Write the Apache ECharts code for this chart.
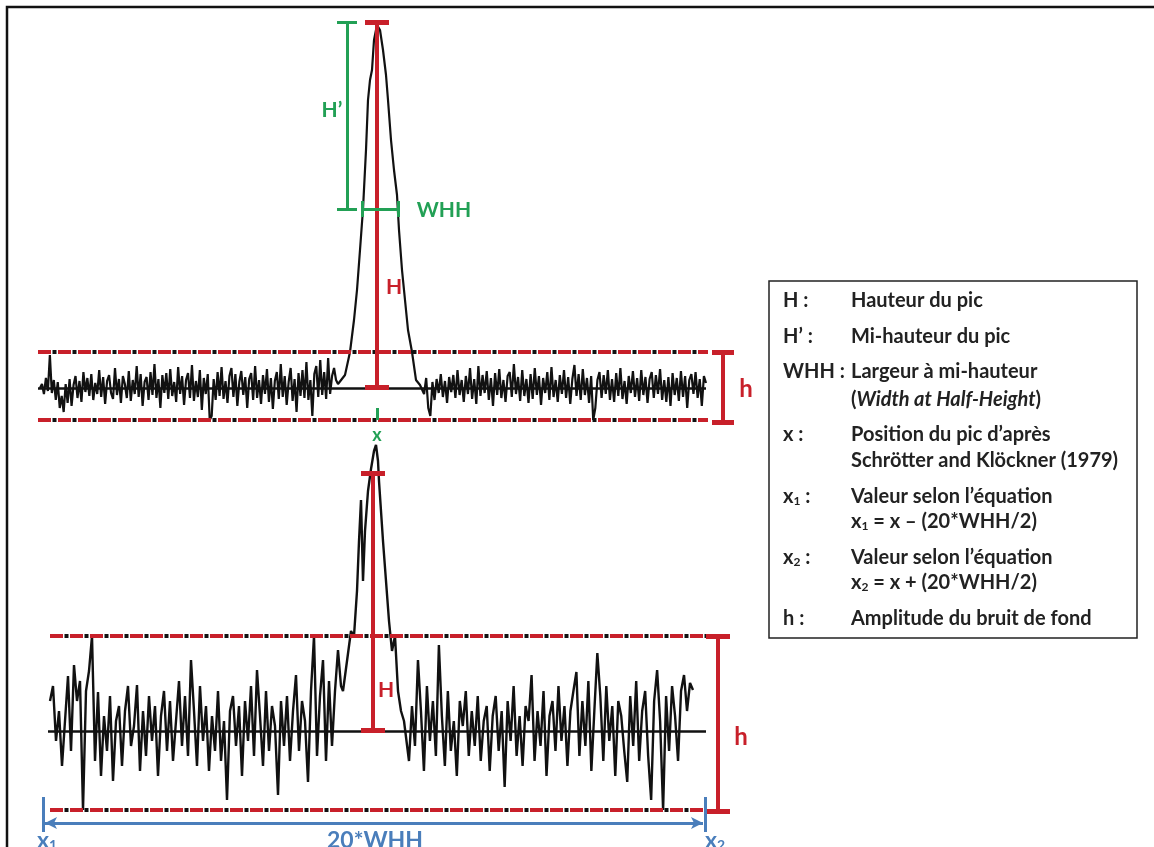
<!DOCTYPE html>
<html><head><meta charset="utf-8">
<script src="https://cdn.jsdelivr.net/npm/echarts@6/dist/echarts.min.js"></script>
<style>html,body{margin:0;padding:0;background:#fff}#c{width:1154px;height:847px}</style>
</head><body><div id="c"></div><script>
// ---------- DATA (signal amplitude) ----------
// Top spectrum: noise left of the peak, the peak, noise right of the peak
const topNoiseLeft = [0, 4, -6, 10, -3, 33, -5, 8, -12, 6, -20, -8, -24, 4, -15, 9, -18, 3, 12, -10, 7, -14, 16, -4, 10, -8, 14, -12, 5, -6, 18, -9, 11, -16, 7, 13, -5, -11, 20, -7, 9, -15, 12, 4, -10, 17, -13, 8, -6, 22, -9, 14, -18, 6, 11, -12, 16, -7, 24, -10, 9, -20, 13, -5, 15, -11, 19, -8, 6, -14, 21, -6, 12, -17, 8, 15, -10, 23, -13, 7, -9, 18, -22, 10, -6, 14, -32, -28, 9, -12, 16, -8, 21, -11, 7, -15, 12, 20, -9, 14, -18, 6, 17, -7, 11, -20, 9, 15, -12, 22, -10, 8, -16, 13, -6, 19, -14, 10, -21, 7, 16, -11, 24, -9, 12, -17, 6, 20, -13, 9, -24, 15, -8, 18, -10, 26, -12, 8, -28, 14, 22, -9, 28, -7, 16, -11, 30, -6, 12, 20, 8, 4];
const topPeakX = [302, 307, 312, 316, 319, 322, 325, 328, 330, 332, 334, 336, 339, 342, 345, 348, 350, 353, 356, 359, 361, 364, 367, 370, 374, 378, 382];
const topPeakY = [3, 13, 36, 68, 98, 138, 179, 238, 288, 308, 318, 348, 363, 358, 338, 313, 288, 248, 218, 193, 158, 118, 88, 58, 36, 8, 3];
const topNoiseRight = [3, -6, 10, -20, -28, 6, -12, 9, -5, 14, -9, 7, -15, 11, -4, 13, -10, 18, -7, 8, -14, 12, -6, 20, -11, 9, -16, 22, -8, 13, -5, 17, -12, 10, -18, 15, -7, 19, -10, 8, -14, 12, 16, -9, 24, -6, 11, -13, 18, -8, 9, -15, 14, -11, 20, -7, 12, -17, 10, -5, 16, -12, 21, -9, 8, -14, 13, -6, 18, -10, 11, -16, 9, 23, -8, 14, -12, 19, -7, 10, -15, 12, -32, -20, 8, 16, -10, 13, -6, 18, -12, 9, -14, 15, -8, 20, -11, 7, -16, 12, -5, 17, -9, 10, -13, 18, -7, 11, -15, 9, 16, -10, 13, -6, 19, -12, 8, -14, 11, -18, 15, -7, 10, -13, 17, -9, 12, -20, 8, 14, -6, 16, -10, 9, -18, 12, 5];
const topNoiseLeftSpan = [2, 300];
const topNoiseRightSpan = [384, 668];
const topBaselineSpan = [0, 668];
const topNoiseBand = [36, -32];      // h band (upper / lower)
const topH = 366;                    // peak height H
const topHalf = 179;                 // half height
const topPeakPos = 339;              // x
const topWHH = [324, 360];

// Bottom spectrum
const botNoiseLeft = [30, 45, -10, 20, -35, 10, 55, -20, 66, 30, 50, -79, 40, 60, 95, -30, 39, -45, 15, -20, 35, -50, 10, 25, -35, 20, 45, -15, 5, 46, -40, 20, -25, 35, -10, 25, -45, 15, 40, -20, 30, -30, 10, 50, -15, 35, -25, 71, 20, -35, 45, -10, 25, -40, 15, -20, 40, -30, 10, -69, 20, 35, -15, 25, -45, 30, -10, 45, -25, 61, 15, -35, 40, -20, 25, 5, -64, 30, -15, 35, -30, 20, 56, -20, 30, 10, -51, 40, 95, -25, 35, 71, -30, 50, -15, 40, 81, 45];
const botPeakX = [305, 309, 313, 316, 319, 321, 323, 325, 327, 330, 333, 336, 338, 340, 341, 343, 345, 348, 351, 354, 357, 360, 363, 366];
const botPeakY = [40, 70, 100, 95, 140, 190, 231, 150, 200, 240, 262, 280, 286, 270, 250, 220, 190, 150, 110, 80, 95, 40, 20, 10];
const botNoiseRight = [10, -30, 25, -15, 71, 20, -40, 45, -10, 30, -25, 86, 15, -35, 40, -20, 10, -45, 30, 5, 40, -25, 20, -15, 35, -30, 10, 25, -40, 15, 35, -20, 20, -56, 30, -10, 45, -25, 15, -35, 25, 10, 56, -30, 20, -15, 40, -45, 15, 30, -20, 45, -10, 25, -35, 20, 40, 59, -25, 30, -15, 50, -40, 20, 78, 35, -30, 45, -10, 25, -45, 30, 15, -20, -51, 35, -15, 50, -30, 20, 40, -25, -69, 30, 61, 10, -79, 35, -20, 45, 15, -30, 40, 56, 20, 48, 41];
const botNoiseLeftSpan = [12, 303];
const botNoiseRightSpan = [368, 655];
const botBaselineSpan = [10, 668];
const botNoiseBand = [95, -79];
const botH = 258;
const botPeakPos = 335;
const botWindow = [5, 667];          // x1 .. x2

// Texts
const windowLabels = ['x{s|1}', '20*WHH', 'x{s|2}'];
const legendKeys = ['H :', 'H’ :', 'WHH :', '', 'x :', '', 'x{s|1} :', '', 'x{s|2} :', '', 'h :'];
const legendTexts = ['Hauteur du pic', 'Mi-hauteur du pic', 'Largeur à mi-hauteur', '({i|Width at Half-Height})',
  'Position du pic d’après', 'Schrötter and Klöckner (1979)', 'Valeur selon l’équation', 'x{s|1} = x – (20*WHH/2)',
  'Valeur selon l’équation', 'x{s|2} = x + (20*WHH/2)', 'Amplitude du bruit de fond'];

// ---------- BUILD ----------
const RED = '#c8202a', GREEN = '#22a055', BLUE = '#4a7ebb', BLACK = '#111';
const FONT = 'Lato, "Open Sans", "DejaVu Sans", sans-serif';

function spread(vals, span) {
  const n = vals.length;
  return vals.map((v, i) => [span[0] + i * (span[1] - span[0]) / (n - 1), v]);
}
function zip(xs, ys) { return xs.map((x, i) => [x, ys[i]]); }

const topSignal = spread(topNoiseLeft, topNoiseLeftSpan).concat(zip(topPeakX, topPeakY), spread(topNoiseRight, topNoiseRightSpan));
const botSignal = spread(botNoiseLeft, botNoiseLeftSpan).concat(zip(botPeakX, botPeakY), spread(botNoiseRight, botNoiseRightSpan));

function seg(x1, y1, x2, y2, color, width, extra) {
  return [{ coord: [x1, y1], lineStyle: Object.assign({ color: color, width: width, type: 'solid' }, extra || {}) }, { coord: [x2, y2] }];
}
function dashedPair(span, y) {
  return [
    seg(span[0], y, span[1], y, BLACK, 4, { type: [4, 16], dashOffset: 5.5 }),
    seg(span[0], y, span[1], y, RED, 4, { type: [13, 7] })
  ];
}
function vbar(x, y1, y2, capHalf, color, width, capWidth) {
  return [
    seg(x, y1, x, y2, color, width),
    seg(x - capHalf, y1, x + capHalf, y1, color, capWidth),
    seg(x - capHalf, y2, x + capHalf, y2, color, capWidth)
  ];
}
function lbl(x, y, text, color, size) {
  return {
    coord: [x, y], value: 0, name: text,
    label: { show: true, position: 'inside', formatter: text, color: color, fontSize: size, fontWeight: 'bold', fontFamily: FONT }
  };
}
function baseSeries(xi, data) {
  return { type: 'line', xAxisIndex: xi, yAxisIndex: xi, data: [], z: 1, silent: true,
    markLine: { silent: true, symbol: 'none', animation: false, label: { show: false }, data: data } };
}
function annotSeries(xi, lines, points) {
  return { type: 'line', xAxisIndex: xi, yAxisIndex: xi, data: [], z: 5, silent: true,
    markLine: { silent: true, symbol: 'none', animation: false, label: { show: false }, data: lines },
    markPoint: { silent: true, symbol: 'circle', symbolSize: 1, animation: false, itemStyle: { color: 'rgba(0,0,0,0)' }, data: points } };
}

// top annotations
const topBaseLines = [seg(topBaselineSpan[0], 0, topBaselineSpan[1], 0, BLACK, 2.5)]
  .concat(dashedPair([0, 670], topNoiseBand[0]), dashedPair([0, 670], topNoiseBand[1]));
const topAnnLines = []
  .concat(vbar(topPeakPos, 1, topH, 12, RED, 4, 5))
  .concat(vbar(309, topHalf, topH, 10, GREEN, 3, 3))
  .concat([seg(topWHH[0], topHalf, topWHH[1], topHalf, GREEN, 3),
           seg(topWHH[0], topHalf - 8, topWHH[0], topHalf + 8, GREEN, 3),
           seg(topWHH[1], topHalf - 8, topWHH[1], topHalf + 8, GREEN, 3)])
  .concat(vbar(685, topNoiseBand[0], topNoiseBand[1] - 2, 11, RED, 4, 5))
  .concat([seg(topPeakPos, -20, topPeakPos, -32, GREEN, 3)]);
const topAnnPoints = [
  lbl(406, topHalf - 1, 'WHH', GREEN, 21),
  lbl(294, 278, 'H’', GREEN, 21),
  lbl(356, 101, 'H', RED, 21),
  lbl(topPeakPos, -47, 'x', GREEN, 18),
  lbl(708, -1, 'h', RED, 24)
];

// bottom annotations
const botBaseLines = [seg(botBaselineSpan[0], 0, botBaselineSpan[1], 0, BLACK, 2.5)]
  .concat(dashedPair([12, 668], botNoiseBand[0]), dashedPair([12, 668], botNoiseBand[1]));
const botAnnLines = []
  .concat(vbar(botPeakPos, 1, botH, 12, RED, 4, 5))
  .concat(vbar(680, botNoiseBand[0], botNoiseBand[1] - 1, 12, RED, 4, 5))
  .concat([seg(botWindow[0], -66, botWindow[0], -101, BLUE, 3),
           seg(botWindow[1], -66, botWindow[1], -101, BLUE, 3),
           [{ coord: [botWindow[0] + 2, -92], symbol: 'arrow', symbolSize: [9, 12], lineStyle: { color: BLUE, width: 3, type: 'solid' } },
            { coord: [botWindow[1] - 2, -92], symbol: 'arrow', symbolSize: [9, 12] }]]);
const botAnnPoints = [
  lbl(348, 41, 'H', RED, 21),
  lbl(703, -6, 'h', RED, 24)
];

// legend box (text panel)
const rowY = [301, 337, 372, 400, 435, 461, 497, 522, 558, 583, 619];
const LF = 20;
const richL = {
  s: { fontSize: 12, fontWeight: 'bold', fontFamily: FONT, fill: '#222', verticalAlign: 'bottom' },
  i: { fontSize: LF, fontWeight: 'bold', fontStyle: 'italic', fontFamily: FONT, fill: '#222' }
};
const legendGraphics = [{ type: 'rect', shape: { x: 769, y: 281, width: 368, height: 357 }, style: { fill: '#fff', stroke: '#222', lineWidth: 1.5 }, z: 10 }];
legendKeys.forEach((k, i) => {
  if (k) legendGraphics.push({ type: 'text', x: 783, y: rowY[i], z: 11,
    style: { text: k, font: 'bold ' + LF + 'px ' + FONT, fill: '#222', verticalAlign: 'middle', rich: richL } });
});
legendTexts.forEach((t, i) => {
  legendGraphics.push({ type: 'text', x: 851, y: rowY[i], z: 11,
    style: { text: t, font: 'bold ' + LF + 'px ' + FONT, fill: '#222', verticalAlign: 'middle', rich: richL } });
});

const chart = echarts.init(document.getElementById('c'), null, { renderer: 'canvas' });
const option = {
  animation: false,
  backgroundColor: '#fff',
  grid: [
    { left: 38, top: 18, width: 740, height: 420 },
    { left: 38, top: 431, width: 740, height: 410 }
  ],
  xAxis: [
    { type: 'value', gridIndex: 0, min: 0, max: 740, show: false },
    { type: 'value', gridIndex: 1, min: 0, max: 740, show: false }
  ],
  yAxis: [
    { type: 'value', gridIndex: 0, min: -50, max: 370, show: false },
    { type: 'value', gridIndex: 1, min: -110, max: 300, show: false }
  ],
  graphic: [{ type: 'rect', shape: { x: 7, y: 7, width: 1160, height: 860 }, style: { fill: 'none', stroke: '#111', lineWidth: 2.5 }, z: 20 }].concat(legendGraphics),
  series: [
    baseSeries(0, topBaseLines),
    { type: 'line', xAxisIndex: 0, yAxisIndex: 0, data: topSignal, showSymbol: false, symbol: 'none', z: 2, silent: true, clip: false,
      lineStyle: { color: BLACK, width: 2.2 } },
    annotSeries(0, topAnnLines, topAnnPoints),
    baseSeries(1, botBaseLines),
    { type: 'line', xAxisIndex: 1, yAxisIndex: 1, data: botSignal, showSymbol: false, symbol: 'none', z: 2, silent: true, clip: false,
      lineStyle: { color: BLACK, width: 2.4 } },
    annotSeries(1, botAnnLines, botAnnPoints)
  ]
};
chart.setOption(option);

// window labels (x1, 20*WHH, x2) placed through the bottom grid's scales
const labelX = [botWindow[0] + 4, (botWindow[0] + botWindow[1]) / 2 + 1, botWindow[1] + 10];
const richB = {
  s: { fontSize: 14, fontWeight: 'bold', fontFamily: FONT, fill: BLUE, verticalAlign: 'bottom' }
};
const extra = windowLabels.map((t, i) => {
  const p = chart.convertToPixel({ gridIndex: 1 }, [labelX[i], -110]);
  return { type: 'text', x: p[0], y: p[1], z: 12,
    style: { text: t, font: 'bold 23px ' + FONT, fill: BLUE, align: 'center', verticalAlign: 'middle', rich: richB } };
});
chart.setOption({ graphic: option.graphic.concat(extra) });
</script></body></html>
